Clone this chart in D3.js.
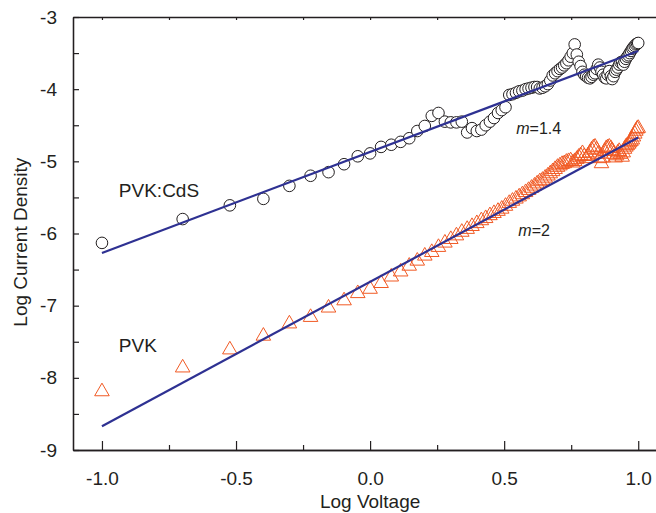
<!DOCTYPE html>
<html>
<head>
<meta charset="utf-8">
<script src="https://cdn.jsdelivr.net/npm/d3@7"></script>
<style>
  html, body { margin: 0; padding: 0; background: #fff; }
  svg { display: block; font-family: "Liberation Sans", Arial, Helvetica, sans-serif; }
</style>
</head>
<body>
<div id="chart"></div>
<script>
// ── Log J vs log V for PVK and PVK:CdS devices ─────
// voltages 0.1 .. 10 V in 0.1 V steps, as log10 values
const logV = [
  -1.000, -0.699, -0.523, -0.398, -0.301, -0.222, -0.155, -0.097, -0.046, 0.000,
   0.041,  0.079,  0.114,  0.146,  0.176,  0.204,  0.230,  0.255,  0.279, 0.301,
   0.322,  0.342,  0.362,  0.380,  0.398,  0.415,  0.431,  0.447,  0.462, 0.477,
   0.491,  0.505,  0.519,  0.531,  0.544,  0.556,  0.568,  0.580,  0.591, 0.602,
   0.613,  0.623,  0.633,  0.643,  0.653,  0.663,  0.672,  0.681,  0.690, 0.699,
   0.708,  0.716,  0.724,  0.732,  0.740,  0.748,  0.756,  0.763,  0.771, 0.778,
   0.785,  0.792,  0.799,  0.806,  0.813,  0.820,  0.826,  0.833,  0.839, 0.845,
   0.851,  0.857,  0.863,  0.869,  0.875,  0.881,  0.886,  0.892,  0.898, 0.903,
   0.908,  0.914,  0.919,  0.924,  0.929,  0.934,  0.940,  0.944,  0.949, 0.954,
   0.959,  0.964,  0.968,  0.973,  0.978,  0.982,  0.987,  0.991,  0.996, 1.000
];

// PVK:CdS (circles)
const cdsJ = [
  -6.13, -5.80, -5.61, -5.52, -5.34, -5.20, -5.15, -5.04, -4.93, -4.89,
  -4.80, -4.77, -4.73, -4.68, -4.58, -4.51, -4.37, -4.33, -4.45, -4.46,
  -4.46, -4.45, -4.60, -4.54, -4.58, -4.56, -4.50, -4.45, -4.40, -4.33,
  -4.29, -4.25, -4.08, -4.07, -4.05, -4.03, -4.02, -4.00, -3.99, -3.98,
  -3.97, -3.97, -3.99, -3.98, -3.96, -3.93, -3.88, -3.81, -3.78, -3.75,
  -3.72, -3.70, -3.67, -3.64, -3.60, -3.55, -3.50, -3.38, -3.52, -3.62,
  -3.68, -3.76, -3.80, -3.82, -3.84, -3.85, -3.83, -3.80, -3.78, -3.72,
  -3.66, -3.70, -3.76, -3.80, -3.84, -3.85, -3.80, -3.75, -3.82, -3.86,
  -3.82, -3.76, -3.73, -3.70, -3.66, -3.63, -3.62, -3.66, -3.62, -3.58,
  -3.55, -3.53, -3.50, -3.47, -3.44, -3.42, -3.40, -3.38, -3.37, -3.36
];

// PVK (triangles)
const pvkJ = [
  -8.19, -7.86, -7.61, -7.42, -7.25, -7.16, -7.03, -6.93, -6.83, -6.77,
  -6.69, -6.60, -6.53, -6.45, -6.38, -6.31, -6.26, -6.19, -6.13, -6.08,
  -6.03, -5.98, -5.94, -5.90, -5.86, -5.82, -5.79, -5.75, -5.72, -5.69,
  -5.66, -5.62, -5.58, -5.55, -5.52, -5.49, -5.46, -5.43, -5.40, -5.37,
  -5.34, -5.31, -5.28, -5.26, -5.23, -5.20, -5.17, -5.14, -5.11, -5.08,
  -5.06, -5.04, -5.03, -5.01, -5.00, -4.99, -5.02, -5.00, -4.97, -4.94,
  -4.92, -4.89, -4.93, -4.96, -4.92, -4.88, -4.84, -4.81, -4.80, -4.84,
  -4.90, -4.96, -5.03, -4.95, -4.86, -4.82, -4.81, -4.80, -4.82, -4.85,
  -4.90, -4.95, -4.92, -4.88, -4.86, -4.90, -4.94, -4.88, -4.83, -4.80,
  -4.78, -4.76, -4.74, -4.72, -4.70, -4.66, -4.62, -4.58, -4.55, -4.54
];

// fitted lines (slope 1.4 and 2)
const fitV   = [-1, 1];
const cdsFit = [-6.27, -3.47];
const pvkFit = [-8.67, -4.67];

const xMajor = [-1, -0.5, 0, 0.5, 1];
const xMinor = [-0.75, -0.25, 0.25, 0.75];
const xTop   = [-1, -0.75, -0.5, -0.25, 0, 0.25, 0.5, 0.75, 1];
const yMajor = [-9, -8, -7, -6, -5, -4, -3];
const yMinor = [-8.5, -7.5, -6.5, -5.5, -4.5, -3.5];

const width = 656, height = 513;
const ink = "#231f20", lineBlue = "#2e3192", triRed = "#f15a24";

const svg = d3.select("#chart").append("svg")
    .attr("width", width).attr("height", height);

const x = d3.scaleLinear().domain([-1.108, 1.07]).range([73, 657]);
const y = d3.scaleLinear().domain([-9, -3]).range([450, 17]);

const cds = logV.map((v, i) => ({ v, j: cdsJ[i] }));
const pvk = logV.map((v, i) => ({ v, j: pvkJ[i] }));

// markers
svg.append("g").selectAll("circle").data(cds).join("circle")
    .attr("cx", d => x(d.v)).attr("cy", d => y(d.j)).attr("r", 5.8)
    .attr("fill", "#fff").attr("stroke", ink).attr("stroke-width", 1);

const tri = d3.symbol().type(d3.symbolTriangle).size(92);
svg.append("g").selectAll("path").data(pvk).join("path")
    .attr("transform", d => `translate(${x(d.v)},${y(d.j)})`)
    .attr("d", tri)
    .attr("fill", "none").attr("stroke", triRed).attr("stroke-width", 1);

// fit lines
const line = d3.line().x(d => x(d[0])).y(d => y(d[1]));
[cdsFit, pvkFit].forEach(f => {
    svg.append("path").datum(fitV.map((v, i) => [v, f[i]]))
        .attr("fill", "none").attr("stroke", lineBlue).attr("stroke-width", 2.2)
        .attr("d", line);
});

// axes
const styleAxis = g => {
    g.select(".domain").attr("stroke", ink).attr("stroke-width", 1.3);
    g.selectAll(".tick line").attr("stroke", ink).attr("stroke-width", 1.2);
    g.selectAll(".tick text").attr("fill", ink)
        .style("font-size", "19px").style("font-family", "Liberation Sans, Arial, sans-serif");
};

svg.append("g").attr("transform", `translate(0,${y(-9)})`)
    .call(d3.axisBottom(x).tickValues(xMajor).tickSize(-9).tickSizeOuter(0)
        .tickPadding(22).tickFormat(d => d.toFixed(1)))
    .call(styleAxis);
svg.append("g").attr("transform", `translate(0,${y(-9)})`)
    .call(d3.axisBottom(x).tickValues(xMinor).tickSize(-5).tickSizeOuter(0).tickFormat(""))
    .call(styleAxis);
svg.append("g").attr("transform", `translate(0,${y(-3)})`)
    .call(d3.axisTop(x).tickValues(xTop).tickSize(-3).tickSizeOuter(0).tickFormat(""))
    .call(styleAxis);

svg.append("g").attr("transform", `translate(${x.range()[0]},0)`)
    .call(d3.axisLeft(y).tickValues(yMajor).tickSize(-6).tickSizeOuter(0)
        .tickPadding(16).tickFormat(d => String(d)))
    .call(styleAxis);
svg.append("g").attr("transform", `translate(${x.range()[0]},0)`)
    .call(d3.axisLeft(y).tickValues(yMinor).tickSize(-6).tickSizeOuter(0).tickFormat(""))
    .call(styleAxis);

// axis titles
svg.append("text").attr("x", x(0)).attr("y", 508)
    .attr("text-anchor", "middle").attr("fill", ink).style("font-size", "19px")
    .text("Log Voltage");
svg.append("text").attr("transform", `translate(27,${y(-6.12)}) rotate(-90)`)
    .attr("text-anchor", "middle").attr("fill", ink).style("font-size", "19px")
    .text("Log Current Density");

// annotations
svg.append("text").attr("x", x(-0.937)).attr("y", y(-5.494))
    .attr("fill", ink).style("font-size", "19px").text("PVK:CdS");
svg.append("text").attr("x", x(-0.937)).attr("y", y(-7.642))
    .attr("fill", ink).style("font-size", "19px").text("PVK");

const m1 = svg.append("text").attr("x", x(0.545)).attr("y", y(-4.62))
    .attr("fill", ink).style("font-size", "16px");
m1.append("tspan").style("font-style", "italic").text("m");
m1.append("tspan").text("=1.4");
const m2 = svg.append("text").attr("x", x(0.553)).attr("y", y(-6.04))
    .attr("fill", ink).style("font-size", "16px");
m2.append("tspan").style("font-style", "italic").text("m");
m2.append("tspan").text("=2");
</script>
</body>
</html>
